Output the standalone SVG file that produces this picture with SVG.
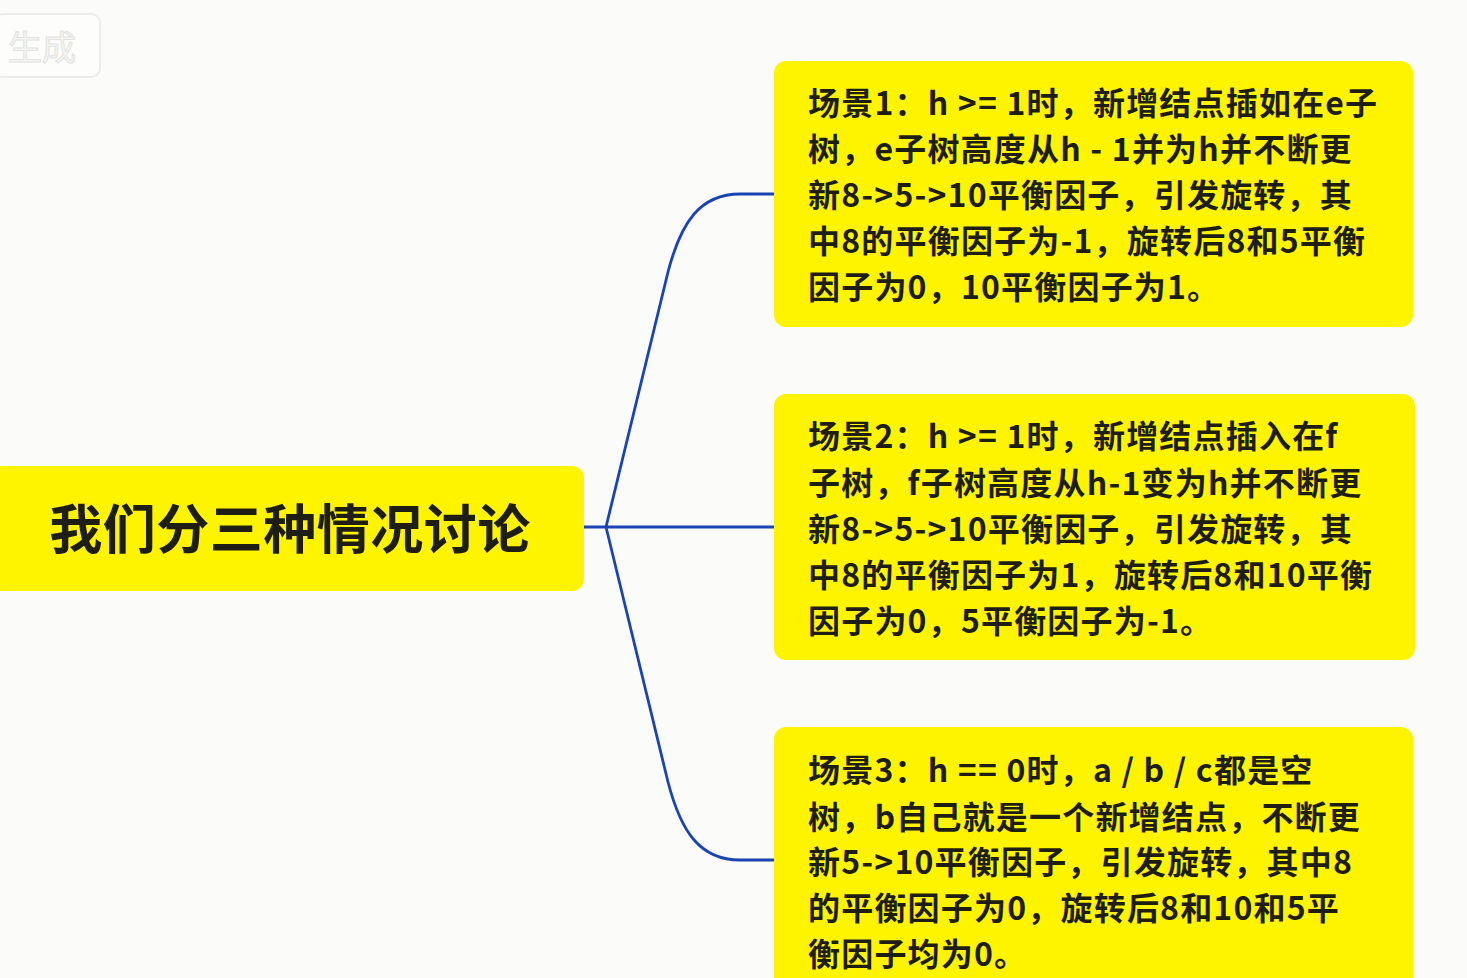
<svg xmlns="http://www.w3.org/2000/svg" width="1467" height="978" viewBox="0 0 1467 978">
<style>
.box{fill:#fff400;}
.t{font-family:"Noto Sans CJK SC","Noto Sans",sans-serif;font-weight:700;font-size:32px;letter-spacing:1.2px;fill:#1e1e14;}
.root{font-family:"Noto Sans CJK SC","Noto Sans",sans-serif;font-weight:700;font-size:53px;letter-spacing:0.5px;fill:#1e1e14;}
.edge{fill:none;stroke:#1a43b3;stroke-width:2.8;}
</style>
<rect x="0" y="0" width="1467" height="978" fill="#fbfbf9"/>
<g id="btn">
<rect x="-6" y="14" width="106" height="63" rx="9" fill="#fdfdfc" stroke="#ececea" stroke-width="2"/>
<text x="8" y="60" font-family="Noto Sans CJK SC, sans-serif" font-size="34" fill="#f6f6f4" stroke="#e2e2e0" stroke-width="1">生成</text>
</g>
<g id="connectors">
<path class="edge" d="M584,527 L774,527"/>
<path class="edge" d="M606,527 L668,272 C681,222 700,194 740,194 L774,194"/>
<path class="edge" d="M606,527 L668,782 C681,832 700,860 740,860 L774,860"/>
</g>
<g id="root">
<rect class="box" x="-10" y="466" width="594" height="125" rx="12"/>
<text class="root" x="290" y="549" text-anchor="middle">我们分三种情况讨论</text>
</g>
<g id="scene1">
<rect class="box" x="774" y="61" width="639" height="266" rx="12"/>
<text class="t" x="808" y="115">场景1：h &gt;= 1时，新增结点插如在e子</text>
<text class="t" x="808" y="161">树，e子树高度从h - 1并为h并不断更</text>
<text class="t" x="808" y="207">新8-&gt;5-&gt;10平衡因子，引发旋转，其</text>
<text class="t" x="808" y="253">中8的平衡因子为-1，旋转后8和5平衡</text>
<text class="t" x="808" y="299">因子为0，10平衡因子为1。</text>
</g>
<g id="scene2">
<rect class="box" x="774" y="394" width="641" height="266" rx="12"/>
<text class="t" x="808" y="448">场景2：h &gt;= 1时，新增结点插入在f</text>
<text class="t" x="808" y="495">子树，f子树高度从h-1变为h并不断更</text>
<text class="t" x="808" y="541">新8-&gt;5-&gt;10平衡因子，引发旋转，其</text>
<text class="t" x="808" y="587">中8的平衡因子为1，旋转后8和10平衡</text>
<text class="t" x="808" y="633">因子为0，5平衡因子为-1。</text>
</g>
<g id="scene3">
<rect class="box" x="774" y="727" width="639" height="270" rx="12"/>
<text class="t" x="808" y="782">场景3：h == 0时，a / b / c都是空</text>
<text class="t" x="808" y="829">树，b自己就是一个新增结点，不断更</text>
<text class="t" x="808" y="874">新5-&gt;10平衡因子，引发旋转，其中8</text>
<text class="t" x="808" y="920">的平衡因子为0，旋转后8和10和5平</text>
<text class="t" x="808" y="966">衡因子均为0。</text>
</g>
</svg>
